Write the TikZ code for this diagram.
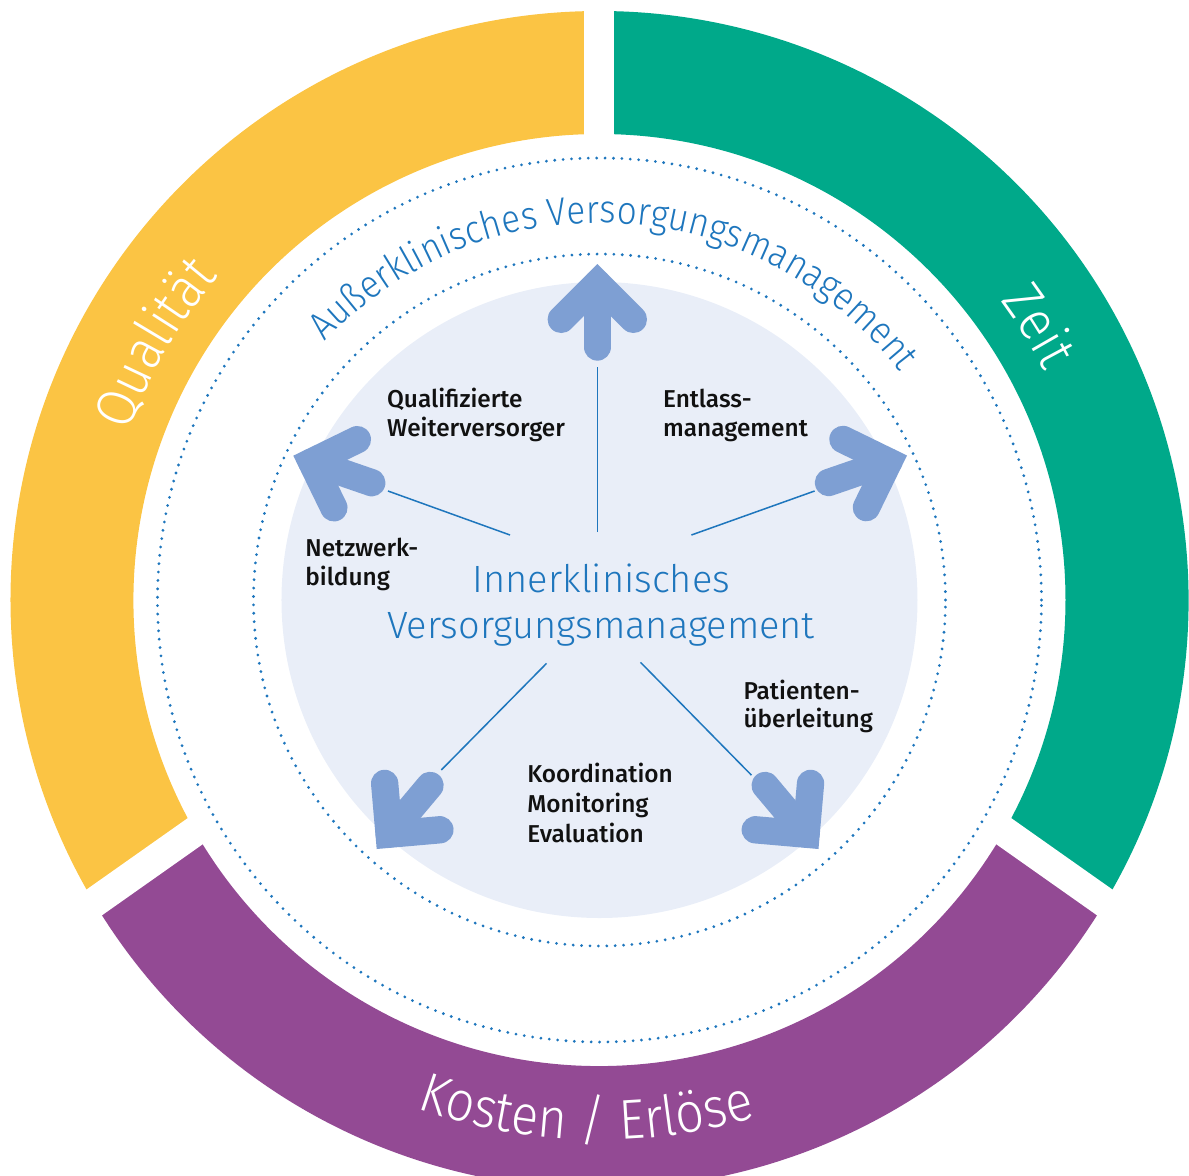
\documentclass[tikz,border=0pt]{standalone}
\usepackage{fontspec}
\setmainfont{Fira Sans}
\newfontfamily\lightfont{Fira Sans Light}
\newfontfamily\lightnarrow{Fira Sans Light}[FakeStretch=0.9]
\newfontfamily\medfont{Fira Sans Medium}
\usetikzlibrary{calc,decorations.text}
\definecolor{ringyellow}{HTML}{FBC444}
\definecolor{ringgreen}{HTML}{00A98A}
\definecolor{ringpurple}{HTML}{934A94}
\definecolor{innerlight}{HTML}{E9EEF8}
\definecolor{arrowblue}{HTML}{7E9FD3}
\definecolor{textblue}{HTML}{1E76BD}
\definecolor{labelblack}{HTML}{111111}
\newcommand\ringfont{\lightnarrow\fontsize{28pt}{30pt}\selectfont}
\newcommand\outerfont{\lightnarrow\fontsize{19.5pt}{22pt}\selectfont}
\newcommand\fatarrow[3]{%
  \coordinate (#1v) at ($(#2)+({#3+180}:19.3)$);
  \coordinate (#1a) at ($(#1v)+({#3+135}:51)$);
  \coordinate (#1b) at ($(#1v)+({#3+225}:51)$);
  \coordinate (#1s) at ($(#1v)+({#3+180}:63.7)$);
  \draw[fatarr] (#1a) -- (#1v) -- (#1b);
  \draw[fatarr] (#1v) -- (#1s);
}
\begin{document}
\begin{tikzpicture}[x=0.5pt,y=0.5pt,
  fatarr/.style={draw=arrowblue, line width=13.65pt, line cap=round, line join=miter},
  conn/.style={draw=textblue, line width=0.75pt},
  dotring/.style={draw=textblue, line width=1.55pt, line cap=round, dash pattern=on 0pt off 4.2pt},
  lbl/.style={font={\medfont\fontsize{12.2pt}{14pt}\selectfont}, text=labelblack, inner sep=0pt, anchor=base west},
  ctr/.style={font={\lightfont\fontsize{19pt}{22pt}\selectfont}, text=textblue, inner sep=0pt, anchor=base},
  gap/.style={draw=white, line width=15pt},
]
\useasboundingbox (-599.5,-575) rectangle (589.5,600);
\clip (-599.5,-575) rectangle (589.5,600);

% outer ring sectors
\fill[ringyellow] (90:589) arc[start angle=90, end angle=210, radius=589] -- (210:466) arc[start angle=210, end angle=90, radius=466] -- cycle;
\fill[ringpurple] (210:589) arc[start angle=210, end angle=330, radius=589] -- (330:466) arc[start angle=330, end angle=210, radius=466] -- cycle;
\fill[ringgreen] (-30:589) arc[start angle=-30, end angle=90, radius=589] -- (90:466) arc[start angle=90, end angle=-30, radius=466] -- cycle;

% gaps
\coordinate (g0) at (0,0);
\coordinate (g1) at (0,54);
\draw[gap] (g0) -- ++(90:620);
\draw[gap] (g1) -- ++(215.2:700);
\draw[gap] (g1) -- ++(324.8:700);

% inner light circle and dotted rings
\fill[innerlight] (0,0) circle[radius=318];
\draw[dotring] (0,0) circle[radius=346];
\draw[dotring] (0,0) circle[radius=442];

% ring labels
\path[decorate, decoration={text along path, text={|\ringfont|Qualität}, text align=center, text color=white}]
  (185:500) arc[start angle=185, end angle=115, radius=500];
\path[decorate, decoration={text along path, text={|\ringfont|Zeit}, text align=center, text color=white}]
  (70:500) arc[start angle=70, end angle=-6, radius=500];
\path[decorate, decoration={text along path, text={|\ringfont|Kosten / Erlöse}, text align=center, text color=white}]
  (228.5:540) arc[start angle=228.5, end angle=308.5, radius=540];
\path[decorate, decoration={text along path, text={|\outerfont|Außerklinisches Versorgungsmanagement}, text align=center, text color=textblue}]
  (170:377) arc[start angle=170, end angle=4, radius=377];

% connectors
\coordinate (c1a) at (-2.2,233);   \coordinate (c1b) at (-2.2,68);
\coordinate (c2a) at (-211.5,109); \coordinate (c2b) at (-89.5,65);
\coordinate (c3a) at (215.1,109);  \coordinate (c3b) at (91.9,65);
\coordinate (c4a) at (-158.2,-170);\coordinate (c4b) at (-53,-63.4);
\coordinate (c5a) at (152,-175.2); \coordinate (c5b) at (41,-62.3);
\draw[conn] (c1b) -- (c1a);
\draw[conn] (c2b) -- (c2a);
\draw[conn] (c3b) -- (c3a);
\draw[conn] (c4b) -- (c4a);
\draw[conn] (c5b) -- (c5a);

% fat arrows
\coordinate (tT) at (-2.2,336);
\coordinate (tUL) at (-306.2,144.3);
\coordinate (tUR) at (307.5,144.5);
\coordinate (tLL) at (-222.8,-249);
\coordinate (tLR) at (219,-249);
\fatarrow{aT}{tT}{90}
\fatarrow{aUL}{tUL}{161}
\fatarrow{aUR}{tUR}{19}
\fatarrow{aLL}{tLL}{230}
\fatarrow{aLR}{tLR}{310}

% labels
\node[lbl] (q1) at (-212.8,192.3) {Qualifizierte};
\node[lbl] (q2) at (-212.8,163.5) {Weiterversorger};
\node[lbl] (e1) at (63.2,192.3) {Entlass-};
\node[lbl] (e2) at (63.2,163.5) {management};
\node[lbl] (n1) at (-294.5,43.2) {Netzwerk-};
\node[lbl] (n2) at (-294.5,14.5) {bildung};
\node[lbl] (p1) at (143.6,-99.4) {Patienten-};
\node[lbl] (p2) at (143.6,-127.3) {überleitung};
\node[lbl] (k1) at (-72.5,-182.8) {Koordination};
\node[lbl] (k2) at (-72.5,-212.7) {Monitoring};
\node[lbl] (k3) at (-72.5,-242) {Evaluation};

% centre text
\node[ctr] (i1) at (2,8) {Innerklinisches};
\node[ctr] (i2) at (1.5,-38) {Versorgungsmanagement};
\end{tikzpicture}
\end{document}
